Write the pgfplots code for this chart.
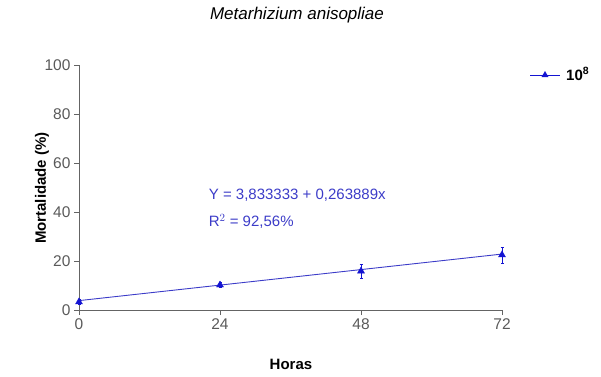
\documentclass[border=0pt]{standalone}
\usepackage{pgfplots}
\pgfplotsset{compat=1.18}
\usepackage{fontspec}
\setmainfont{Liberation Sans}
\definecolor{serie}{RGB}{20,20,210}
\definecolor{eq}{RGB}{60,60,200}
\definecolor{axc}{RGB}{100,100,100}
\definecolor{tickc}{RGB}{90,90,90}
\begin{document}
\begin{tikzpicture}[x=1pt,y=1pt]
\path[use as bounding box] (0,0) rectangle (601,376);
\begin{axis}[
  at={(79pt,66pt)}, anchor=south west,
  scale only axis, width=423pt, height=245pt,
  xmin=0, xmax=72, ymin=0, ymax=100,
  axis x line*=bottom, axis y line*=left,
  axis line style={axc, line width=1pt, -},
  xtick={0,24,48,72}, ytick={0,20,40,60,80,100},
  tick align=outside, major tick length=5pt,
  tick style={axc, line width=1pt},
  tick label style={font=\fontsize{15.5}{17}\selectfont, text=tickc},
  /pgf/number format/assume math mode=true,
  clip=false,
]
\addplot[eq, line width=0.9pt] coordinates {(0,3.833) (72,22.833)};
\addplot[serie, only marks, mark=triangle*, mark size=4pt,
  error bars/.cd, y dir=both, y explicit,
  error bar style={serie, line width=0.6pt}, error mark options={serie, mark size=1.5pt, rotate=90}]
  coordinates {(0,3.3) +- (0,1) (24,10.2) +- (0,1) (48,15.9) +- (0,2.8) (72,22.5) +- (0,3.2)};
\node[anchor=west, text=eq, font=\fontsize{15}{17}\selectfont] at (axis cs:21.5,47) {Y = 3,833333 + 0,263889x};
\node[anchor=west, text=eq, font=\fontsize{15}{17}\selectfont] at (axis cs:21.5,36) {R$^2$ = 92,56\%};
\end{axis}
\node[font=\itshape\fontsize{17}{19}\selectfont] at (297,361) {Metarhizium anisopliae};
\node[rotate=90, font=\bfseries\fontsize{15}{17}\selectfont] at (42,188) {Mortalidade (\%)};
\node[font=\bfseries\fontsize{15}{17}\selectfont] at (291,12) {Horas};
\draw[serie, line width=1pt] (530,301) -- (560,301);
\path[serie, fill=serie] (545,301) ++(0,4) -- ++(-4*0.866,-6) -- ++(8*0.866,0) -- cycle;
\node[anchor=west, font=\bfseries\fontsize{15}{17}\selectfont, inner sep=0pt] at (566,302) {10$^{\mathbf 8}$};
\end{tikzpicture}
\end{document}
